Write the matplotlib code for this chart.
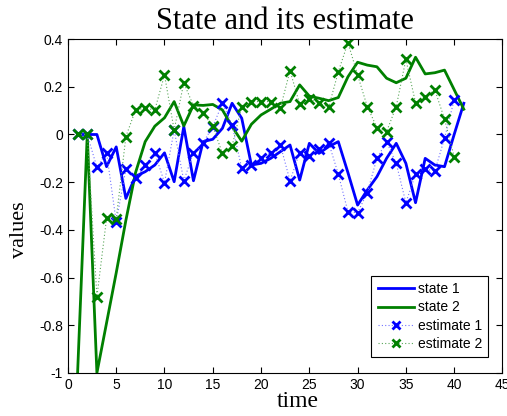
import numpy as np
import matplotlib.pyplot as plt

# time axis for true states and filter estimates
t_state = np.arange(1, 42)
t_est = np.arange(1, 41)

state1 = [0, 0, 0, -0.135, -0.052, -0.268, -0.175, -0.156, -0.128, -0.077,
          -0.198, 0.033, -0.194, -0.03, -0.02, 0.026, 0.131, 0.068, -0.128, -0.121,
          -0.1, -0.072, -0.044, -0.191, -0.037, -0.079, -0.051, -0.03, -0.16, -0.296,
          -0.233, -0.177, -0.1, -0.037, -0.121, -0.286, -0.1, -0.128, -0.135, 0.0,
          0.131]
state2 = [-1.0, 0, -1.0, -0.79, -0.58, -0.36, -0.16, -0.03, 0.035, 0.07,
          0.138, 0.036, 0.124, 0.122, 0.126, 0.103, 0.033, -0.028, 0.043, 0.082,
          0.106, 0.131, 0.138, 0.208, 0.161, 0.152, 0.142, 0.155, 0.242, 0.303,
          0.291, 0.284, 0.236, 0.217, 0.236, 0.324, 0.254, 0.259, 0.27, 0.188,
          0.106]
est1 = [0, 0, -0.138, -0.076, -0.366, -0.145, -0.184, -0.128, -0.077, -0.202,
        0.019, -0.194, -0.076, -0.034, 0.033, 0.131, 0.04, -0.142, -0.128, -0.1,
        -0.076, -0.044, -0.194, -0.076, -0.09, -0.062, -0.034, -0.166, -0.324, -0.328,
        -0.244, -0.1, -0.03, -0.121, -0.286, -0.166, -0.146, -0.152, -0.016, 0.145]
est2 = [0, 0, -0.68, -0.352, -0.354, -0.009, 0.103, 0.11, 0.103, 0.25,
        0.019, 0.217, 0.12, 0.091, 0.034, -0.079, -0.048, 0.117, 0.138, 0.138,
        0.138, 0.11, 0.268, 0.128, 0.148, 0.133, 0.114, 0.263, 0.385, 0.25,
        0.117, 0.029, 0.012, 0.117, 0.315, 0.133, 0.158, 0.187, 0.065, -0.093]

xticks = np.arange(0, 46, 5)
yticks = [-1, -0.8, -0.6, -0.4, -0.2, 0, 0.2, 0.4]
ytick_labels = ['-1', '-0.8', '-0.6', '-0.4', '-0.2', '0', '0.2', '0.4']

blue = (0, 0, 1)
green = (0, 0.5, 0)
pale_blue = (0.45, 0.45, 1)
pale_green = (0.35, 0.65, 0.35)

fig = plt.figure(figsize=(5.07, 4.16), dpi=100)
ax = fig.add_axes([0.134, 0.1034, 0.857, 0.8026])

ax.plot(t_state, state1, color=blue, lw=2, label='state 1')
ax.plot(t_state, state2, color=green, lw=2, label='state 2')
ax.plot(t_est, est1, color=pale_blue, ls=(0, (1, 2)), lw=0.8, marker='x', ms=7,
        mew=2, mec=blue, label='estimate 1')
ax.plot(t_est, est2, color=pale_green, ls=(0, (1, 2)), lw=0.8, marker='x', ms=7,
        mew=2, mec=green, label='estimate 2')

ax.set_xlim(0, 45)
ax.set_ylim(-1, 0.4)
ax.set_xticks(xticks)
ax.set_yticks(yticks)
ax.set_yticklabels(ytick_labels)
ax.tick_params(direction='in', top=True, right=True, length=4, width=0.8,
               labelsize=10)
for lab in ax.get_xticklabels() + ax.get_yticklabels():
    lab.set_family('Liberation Sans')
for sp in ax.spines.values():
    sp.set_linewidth(0.8)

ax.set_title('State and its estimate', family='Liberation Serif', fontsize=22,
             pad=7)
ax.set_xlabel('time', family='Liberation Serif', fontsize=17, labelpad=0)
ax.set_ylabel('values', family='Liberation Serif', fontsize=16, labelpad=0)
ax.xaxis.set_label_coords(0.53, -0.055)
ax.yaxis.set_label_coords(-0.09, 0.43)

leg = ax.legend(loc='lower right', bbox_to_anchor=(1 - 14 / 434, 16 / 334),
                prop={'family': 'Liberation Sans', 'size': 10},
                fancybox=False, edgecolor='black', framealpha=1,
                borderaxespad=0, handlelength=2.6, handletextpad=0.3,
                labelspacing=0.3, borderpad=0.45, markerscale=0.85)
leg.get_frame().set_linewidth(0.8)

fig.savefig('out.png', dpi=100)
